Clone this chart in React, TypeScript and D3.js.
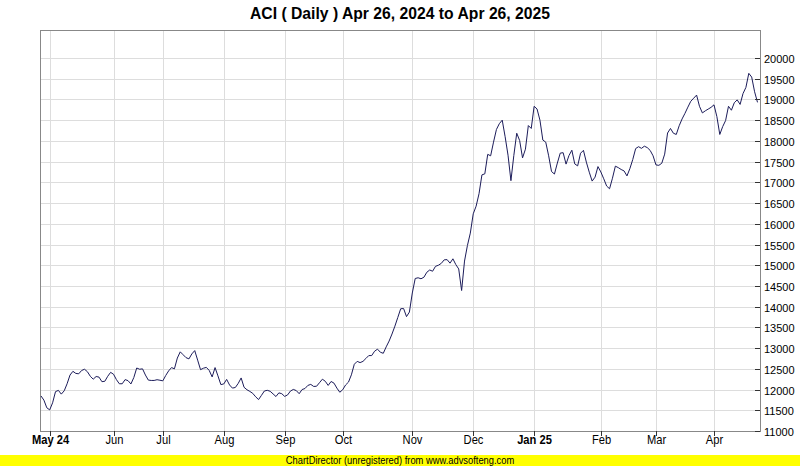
import { useEffect, useRef } from "react";
import * as d3 from "d3";

// Daily closes, Apr 26 2024 .. Apr 25 2025
const closes = [
  11845, 11745, 11560, 11510, 11680, 11950, 11980, 11890, 11970, 12140,
  12350, 12440, 12390, 12380, 12460, 12490, 12430, 12320, 12250, 12315,
  12300, 12190, 12200, 12320, 12415, 12370, 12240, 12140, 12140, 12240,
  12215, 12135, 12290, 12520, 12490, 12500, 12350, 12228, 12220, 12220,
  12237, 12225, 12210, 12340, 12450, 12530, 12500, 12760, 12910, 12840,
  12770, 12740, 12860, 12940, 12710, 12480, 12515, 12535, 12460, 12305,
  12530, 12330, 12120, 12135, 12245, 12110, 12035, 12050, 12150, 12280,
  12055, 11995, 11955, 11908, 11825, 11758, 11860, 11965, 11982, 11958,
  11895, 11832, 11920, 11900, 11835, 11870, 11965, 12003, 11975, 11900,
  12000, 12025, 12100, 12125, 12075, 12080, 12165, 12250, 12200, 12100,
  12195, 12155, 12035, 11935, 11995, 12110, 12180, 12355, 12610, 12680,
  12650, 12680, 12750, 12820, 12820, 12925, 12975, 12900, 12875, 13030,
  13170, 13340, 13530, 13740, 13950, 13955, 13760, 13870, 14330, 14680,
  14697, 14673, 14710, 14830, 14885, 14855, 14973, 15000, 15045, 15130,
  15135, 15050, 15155, 15015, 14910, 14390, 15100, 15475, 15775, 16240,
  16425, 16725, 17180, 17205, 17675, 17640, 17970, 18275, 18415, 18500,
  18100, 17655, 17040, 17650, 18185, 18010, 17590, 17800, 18370, 18300,
  18835, 18770, 18500, 18020, 17970, 17640, 17260, 17200, 17465, 17705,
  17715, 17440, 17645, 17775, 17445, 17397, 17702, 17772, 17487, 17245,
  17030, 17125, 17380, 17250, 17085, 16910, 16845, 17100, 17390, 17355,
  17310, 17275, 17155, 17330, 17550, 17815, 17860, 17820, 17872, 17838,
  17770, 17640, 17420, 17410, 17460, 17680, 18190, 18300, 18185, 18155,
  18365, 18530, 18665, 18815, 18955, 19030, 19105, 18835, 18675, 18725,
  18767, 18810, 18870, 18585, 18155, 18345, 18490, 18835, 18740, 18920,
  18990, 18880, 19140, 19290, 19630, 19540, 19185, 18930,
];

// first trading day of each month (index into closes)
const monthIdx = [3, 25, 42, 63, 84, 104, 128, 149, 170, 193, 212, 232];
const monthLabels = ["May 24", "Jun", "Jul", "Aug", "Sep", "Oct", "Nov", "Dec", "Jan 25", "Feb", "Mar", "Apr"];

const yTicks = d3.range(11000, 20001, 500);

const title = "ACI ( Daily ) Apr 26, 2024 to Apr 26, 2025";
const footer = "ChartDirector (unregistered) from www.advsofteng.com";

export default function App() {
  const ref = useRef<SVGSVGElement>(null);

  useEffect(() => {
    if (!ref.current) return;
    const svg = d3.select(ref.current);
    svg.selectAll("*").remove();

    const W = 800, H = 466;
    const left = 41, right = 760, top = 30, bottom = 431;
    const font = "'Liberation Sans', Arial, sans-serif";

    const x = d3.scaleLinear().domain([0, closes.length - 1]).range([left, 757.5]);
    const y = d3.scaleLinear().domain([11000, 20000]).range([bottom, 58]);

    svg.append("rect").attr("width", W).attr("height", H).attr("fill", "#ffffff");

    // title (squeezed a bit, the original uses a narrow face)
    svg.append("text")
      .attr("transform", "translate(400,19) scale(0.925,1)")
      .attr("text-anchor", "middle")
      .attr("font-family", font)
      .attr("font-weight", "bold")
      .attr("font-size", 17)
      .attr("fill", "#000")
      .text(title);

    // horizontal grid
    yTicks.forEach((v) => {
      svg.append("line")
        .attr("x1", left).attr("x2", right)
        .attr("y1", Math.round(y(v)) + 0.5).attr("y2", Math.round(y(v)) + 0.5)
        .attr("stroke", "#dddddd");
    });

    // vertical grid at month starts
    monthIdx.forEach((i) => {
      const xx = Math.round(x(i)) + 0.5;
      svg.append("line")
        .attr("x1", xx).attr("x2", xx)
        .attr("y1", top).attr("y2", bottom)
        .attr("stroke", "#dddddd");
    });

    // border
    svg.append("rect")
      .attr("x", left - 0.5).attr("y", top + 0.5)
      .attr("width", right - left + 1).attr("height", bottom - top)
      .attr("fill", "none")
      .attr("stroke", "#888888");

    // price line
    const line = d3.line<number>()
      .x((_, i) => x(i))
      .y((d) => y(d));
    svg.append("path")
      .datum(closes)
      .attr("d", line)
      .attr("fill", "none")
      .attr("stroke", "#1c1c5a")
      .attr("stroke-width", 1)
      .attr("stroke-linejoin", "round");

    // y axis on the right
    yTicks.forEach((v) => {
      const yy = Math.round(y(v)) + 0.5;
      svg.append("line")
        .attr("x1", right - 5).attr("x2", right)
        .attr("y1", yy).attr("y2", yy)
        .attr("stroke", "#333");
      svg.append("text")
        .attr("x", right + 4).attr("y", yy + 4)
        .attr("font-family", font)
        .attr("font-size", 11)
        .attr("fill", "#000")
        .text(v);
    });

    // x axis labels
    monthIdx.forEach((i, k) => {
      const xx = Math.round(x(i)) + 0.5;
      svg.append("line")
        .attr("x1", xx).attr("x2", xx)
        .attr("y1", bottom).attr("y2", bottom + 5)
        .attr("stroke", "#333");
      const lab = monthLabels[k];
      svg.append("text")
        .attr("transform", `translate(${xx},444) scale(0.93,1)`)
        .attr("text-anchor", "middle")
        .attr("font-family", font)
        .attr("font-weight", /\d/.test(lab) ? "bold" : "normal")
        .attr("font-size", 12)
        .attr("fill", "#000")
        .text(lab);
    });

    // footer bar
    svg.append("rect")
      .attr("x", 0).attr("y", 455)
      .attr("width", W).attr("height", H - 455)
      .attr("fill", "#ffff00");
    svg.append("text")
      .attr("transform", "translate(400,464) scale(0.935,1)")
      .attr("text-anchor", "middle")
      .attr("font-family", font)
      .attr("font-size", 10)
      .attr("fill", "#000")
      .text(footer);
  }, []);

  return (
    <svg
      ref={ref}
      width={800}
      height={466}
      style={{ position: "absolute", left: 0, top: 0, display: "block" }}
    ></svg>
  );
}
